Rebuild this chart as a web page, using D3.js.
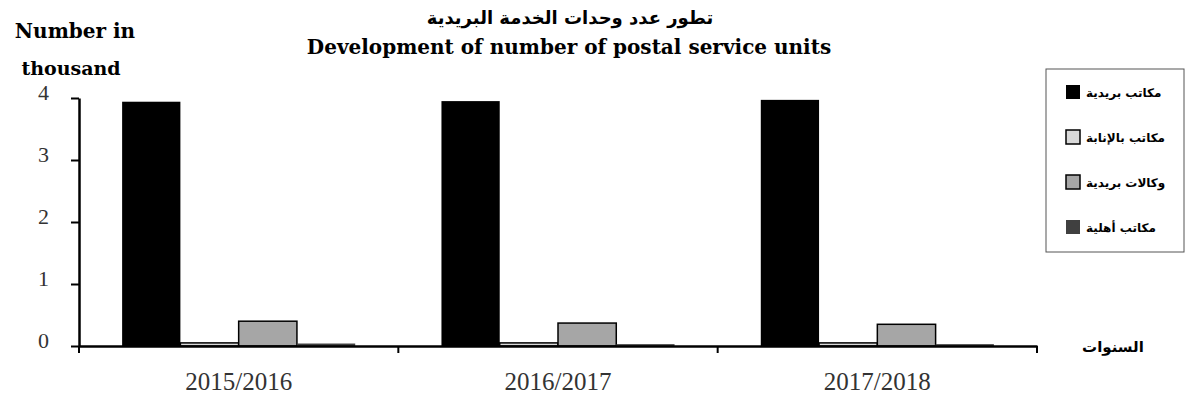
<!DOCTYPE html>
<html>
<head>
  <meta charset="utf-8" />
  <script src="https://d3js.org/d3.v7.min.js"></script>
  <style>
    body { margin: 0; background: #fff; }
    svg { display: block; }
  </style>
</head>
<body>
  <div id="chart"></div>
  <script>
    const years = ["2015/2016", "2016/2017", "2017/2018"];
    const seriesNames = ["مكاتب بريدية", "مكاتب بالإنابة", "وكالات بريدية", "مكاتب أهلية"];
    const postOffices = [3.94, 3.95, 3.97];
    const agencyOffices = [0.05, 0.05, 0.05];
    const postAgencies = [0.40, 0.37, 0.35];
    const privateOffices = [0.04, 0.03, 0.03];
    const yTicks = [0, 1, 2, 3, 4];

    const series = [postOffices, agencyOffices, postAgencies, privateOffices];
    const fills = ["#000000", "#d9d9d9", "#a6a6a6", "#404040"];
    const strokes = ["none", "#000", "#000", "none"];

    const width = 1186, height = 401;
    const margin = { left: 79, right: 149, top: 98, bottom: 55 };
    const plotBottom = height - margin.bottom;

    const svg = d3.select("#chart").append("svg")
      .attr("width", width)
      .attr("height", height);

    const x = d3.scaleBand()
      .domain(years)
      .range([margin.left, width - margin.right]);

    const xInner = d3.scaleBand()
      .domain(d3.range(series.length))
      .range([0, x.bandwidth()])
      .paddingOuter(0.74);

    const y = d3.scaleLinear()
      .domain([0, 4])
      .range([plotBottom, margin.top]);

    // bars
    series.forEach(function (vals, i) {
      svg.append("g")
        .selectAll("rect")
        .data(vals)
        .enter().append("rect")
        .attr("x", (d, j) => x(years[j]) + xInner(i))
        .attr("width", xInner.bandwidth())
        .attr("y", d => y(d))
        .attr("height", d => plotBottom - y(d))
        .attr("fill", fills[i])
        .attr("stroke", strokes[i])
        .attr("stroke-width", 1.5);
    });

    // y axis
    const yAxis = svg.append("g")
      .attr("transform", `translate(${margin.left},0)`)
      .call(d3.axisLeft(y).tickValues(yTicks).tickSize(8).tickSizeOuter(0).tickFormat(d3.format("d")));
    yAxis.select(".domain").attr("stroke", "#000").attr("stroke-width", 2.5);
    yAxis.selectAll(".tick line").attr("stroke", "#000").attr("stroke-width", 2);
    yAxis.selectAll(".tick text")
      .attr("x", -30)
      .attr("dy", "0.08em")
      .attr("fill", "#333")
      .style("font-family", "'Liberation Serif', serif")
      .style("font-size", "22px");

    // x axis
    const xAxis = svg.append("g")
      .attr("transform", `translate(0,${plotBottom})`)
      .call(d3.axisBottom(x).tickSize(0).tickSizeOuter(0));
    xAxis.select(".domain").attr("stroke", "#000").attr("stroke-width", 2.5);
    xAxis.selectAll(".tick text")
      .attr("y", 26)
      .attr("fill", "#333")
      .style("font-family", "'Liberation Serif', serif")
      .style("font-size", "25px");
    // boundary ticks between categories
    const bounds = years.map(d => x(d)).concat([x(years[years.length - 1]) + x.bandwidth()]);
    xAxis.selectAll(".bound")
      .data(bounds)
      .enter().append("line")
      .attr("x1", d => d).attr("x2", d => d)
      .attr("y1", 0).attr("y2", 7)
      .attr("stroke", "#000").attr("stroke-width", 2);

    // titles
    svg.append("text")
      .attr("x", 570).attr("y", 24)
      .attr("text-anchor", "middle")
      .style("font-family", "'DejaVu Sans', sans-serif")
      .style("font-weight", "bold")
      .style("font-size", "18px")
      .text("تطور عدد وحدات الخدمة البريدية");

    svg.append("text")
      .attr("x", 569).attr("y", 54)
      .attr("text-anchor", "middle")
      .style("font-family", "'DejaVu Serif', serif")
      .style("font-weight", "bold")
      .style("font-size", "20px")
      .text("Development of  number of postal service units");

    svg.append("text")
      .attr("x", 75).attr("y", 38)
      .attr("text-anchor", "middle")
      .style("font-family", "'DejaVu Serif', serif")
      .style("font-weight", "bold")
      .style("font-size", "20px")
      .text("Number in");

    svg.append("text")
      .attr("x", 71).attr("y", 75)
      .attr("text-anchor", "middle")
      .style("font-family", "'DejaVu Serif', serif")
      .style("font-weight", "bold")
      .style("font-size", "19px")
      .text("thousand");

    svg.append("text")
      .attr("x", 1113).attr("y", plotBottom + 6)
      .attr("text-anchor", "middle")
      .style("font-family", "'DejaVu Sans', sans-serif")
      .style("font-weight", "bold")
      .style("font-size", "15px")
      .text("السنوات");

    // legend
    const legend = svg.append("g");
    legend.append("rect")
      .attr("x", 1046).attr("y", 69)
      .attr("width", 138).attr("height", 183)
      .attr("fill", "#fff")
      .attr("stroke", "#555")
      .attr("stroke-width", 1);

    const items = legend.selectAll(".item")
      .data(seriesNames)
      .enter().append("g")
      .attr("transform", (d, i) => `translate(0,${92 + i * 45})`);
    items.append("rect")
      .attr("x", 1066).attr("y", -7)
      .attr("width", 14).attr("height", 14)
      .attr("fill", (d, i) => fills[i])
      .attr("stroke", (d, i) => strokes[i] === "none" ? "none" : "#000")
      .attr("stroke-width", 1.5);
    items.append("text")
      .attr("x", 1086).attr("y", 5)
      .attr("text-anchor", "start")
      .style("font-family", "'DejaVu Sans', sans-serif")
      .style("font-weight", "bold")
      .style("font-size", "12px")
      .text(d => d);
  </script>
</body>
</html>
